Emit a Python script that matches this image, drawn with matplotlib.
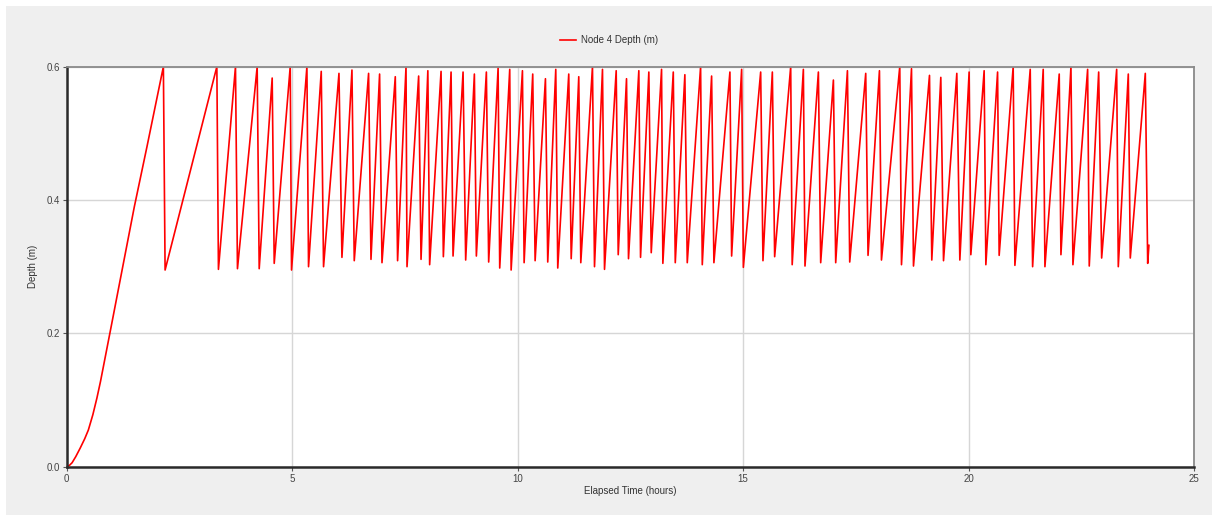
import matplotlib.pyplot as plt
from matplotlib.patches import Rectangle

# --- Node 4 depth time series (hours, metres) ---
# initial filling curve
fill_hours = [0.0, 0.06, 0.12, 0.2, 0.3, 0.4, 0.48, 0.58, 0.67, 0.75, 1.0, 1.5, 1.78]
fill_depth = [0.0, 0.002, 0.006, 0.015, 0.028, 0.042, 0.055, 0.078, 0.103, 0.128, 0.215, 0.39, 0.48]

# pump cycles: peak then trough
peak_hours = [2.144, 3.330, 3.743, 4.224, 4.557, 4.957, 5.327, 5.645, 6.038, 6.326,
              6.695, 6.939, 7.287, 7.525, 7.805, 8.009, 8.302, 8.524, 8.790, 9.041,
              9.307, 9.567, 9.825, 10.107, 10.335, 10.617, 10.846, 11.134, 11.356, 11.660,
              11.882, 12.186, 12.415, 12.688, 12.910, 13.192, 13.452, 13.709, 14.058, 14.302,
              14.708, 14.968, 15.390, 15.649, 16.056, 16.337, 16.670, 17.003, 17.314, 17.720,
              18.024, 18.475, 18.735, 19.134, 19.385, 19.740, 20.013, 20.346, 20.644, 20.990,
              21.368, 21.656, 22.011, 22.271, 22.641, 22.886, 23.285, 23.543, 23.920]
peak_depth = [0.600, 0.600, 0.600, 0.600, 0.583, 0.600, 0.600, 0.593, 0.590, 0.595,
              0.590, 0.589, 0.585, 0.600, 0.586, 0.594, 0.593, 0.592, 0.592, 0.589,
              0.592, 0.598, 0.596, 0.594, 0.589, 0.582, 0.596, 0.589, 0.585, 0.600,
              0.596, 0.594, 0.582, 0.594, 0.592, 0.596, 0.592, 0.588, 0.600, 0.586,
              0.592, 0.596, 0.592, 0.592, 0.600, 0.596, 0.592, 0.580, 0.594, 0.590,
              0.594, 0.600, 0.597, 0.587, 0.584, 0.590, 0.592, 0.594, 0.592, 0.600,
              0.596, 0.596, 0.589, 0.600, 0.596, 0.592, 0.596, 0.589, 0.590]
trough_hours = [2.182, 3.365, 3.787, 4.269, 4.602, 4.986, 5.363, 5.696, 6.104, 6.377,
                6.748, 6.992, 7.338, 7.547, 7.858, 8.049, 8.353, 8.568, 8.848, 9.085,
                9.358, 9.603, 9.856, 10.144, 10.388, 10.668, 10.890, 11.188, 11.401, 11.705,
                11.927, 12.231, 12.459, 12.726, 12.963, 13.221, 13.496, 13.762, 14.095, 14.353,
                14.746, 15.006, 15.441, 15.700, 16.089, 16.373, 16.721, 17.054, 17.365, 17.771,
                18.069, 18.513, 18.779, 19.185, 19.445, 19.807, 20.051, 20.384, 20.679, 21.028,
                21.421, 21.694, 22.049, 22.315, 22.677, 22.952, 23.321, 23.587, 23.973]
trough_depth = [0.295, 0.296, 0.297, 0.297, 0.305, 0.295, 0.300, 0.300, 0.314, 0.309,
                0.311, 0.306, 0.309, 0.300, 0.311, 0.303, 0.315, 0.316, 0.310, 0.316,
                0.307, 0.298, 0.295, 0.306, 0.309, 0.307, 0.298, 0.312, 0.306, 0.300,
                0.296, 0.318, 0.312, 0.314, 0.321, 0.305, 0.306, 0.306, 0.303, 0.306,
                0.316, 0.299, 0.309, 0.315, 0.303, 0.301, 0.306, 0.306, 0.307, 0.317,
                0.310, 0.303, 0.301, 0.310, 0.309, 0.310, 0.318, 0.303, 0.317, 0.302,
                0.300, 0.300, 0.318, 0.303, 0.301, 0.313, 0.300, 0.313, 0.305]
end_hours = [24.0]
end_depth = [0.332]

# assemble the polyline
hours = list(fill_hours)
depth = list(fill_depth)
for ph, pd_, th, td in zip(peak_hours, peak_depth, trough_hours, trough_depth):
    hours += [ph, th]
    depth += [pd_, td]
hours += end_hours
depth += end_depth

# --- Plot ---
plt.rcParams['font.family'] = ['Liberation Sans', 'DejaVu Sans']
fig = plt.figure(figsize=(12.12, 5.15), dpi=100, facecolor='white')
fig.patches.append(Rectangle((6 / 1212, 0), 1, 1 - 6 / 515, transform=fig.transFigure,
                             facecolor='#efefef', edgecolor='none', zorder=-10))

ax = fig.add_axes([66.7 / 1212, 1 - 466.7 / 515, (1194 - 66.7) / 1212, 400 / 515])
ax.set_facecolor('white')
ax.plot(hours, depth, color='#ff0000', lw=1.2, label='Node 4 Depth (m)')

ax.set_xlim(0, 25)
ax.set_ylim(0, 0.6)
ax.set_xticks([0, 5, 10, 15, 20, 25])
ax.set_yticks([0.0, 0.2, 0.4, 0.6])
ax.set_yticklabels(['0.0', '0.2', '0.4', '0.6'])
ax.grid(True, color='#d6d6d6', lw=1.0)
ax.set_axisbelow(True)

for side in ['left', 'bottom']:
    ax.spines[side].set_color('#2a2a2a')
    ax.spines[side].set_linewidth(1.8)
for side in ['top', 'right']:
    ax.spines[side].set_color('#8a8a8a')
    ax.spines[side].set_linewidth(1.3)

ax.tick_params(axis='both', length=3, width=0.8, color='#555555',
               labelsize=7, labelcolor='#444444', pad=2)
ax.set_xlabel('Elapsed Time (hours)', fontsize=7, color='#333333', labelpad=2)
ax.set_ylabel('Depth (m)', fontsize=7, color='#333333', labelpad=6)

ax.legend(loc='center', bbox_to_anchor=(0.481, 1 + 26.7 / 400), frameon=False,
          fontsize=7, handlelength=1.65, handletextpad=0.5, labelcolor='#333333')

plt.savefig('out.png', dpi=100, facecolor=fig.get_facecolor())
plt.close()
